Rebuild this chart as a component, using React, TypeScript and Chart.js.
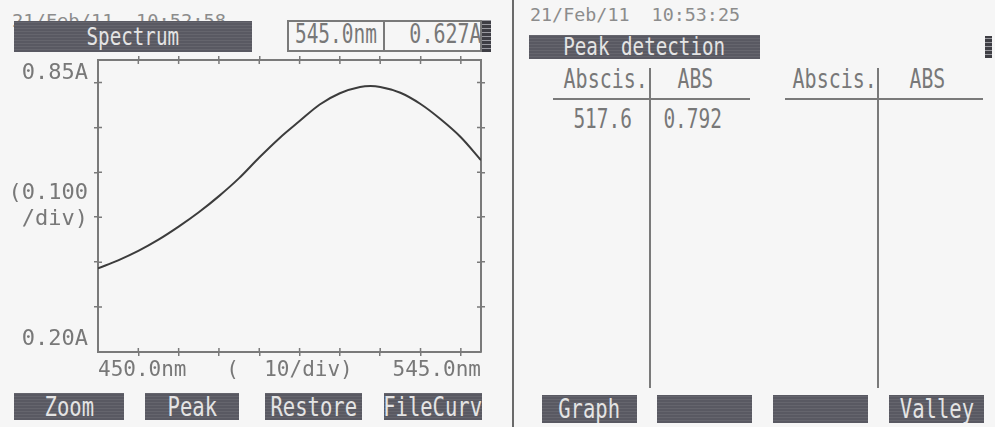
import React, { useEffect, useRef } from "react";
import { Chart, registerables } from "chart.js";

Chart.register(...registerables);

// ---- data ----
const WAVELENGTHS = [450, 455, 460, 465, 470, 475, 480, 485, 490, 495, 500, 505, 510, 515, 517.6, 520, 525, 530, 535, 540, 545];
const ABSORBANCE = [0.386, 0.404, 0.425, 0.450, 0.479, 0.511, 0.547, 0.587, 0.633, 0.676, 0.714, 0.751, 0.776, 0.790, 0.792, 0.790, 0.777, 0.752, 0.718, 0.678, 0.627];

const X_MIN = 450;
const X_MAX = 545;
const X_STEPS = [460, 470, 480, 490, 500, 510, 520, 530, 540];
const X_MID = 497.5; // position of the "( 10/div)" caption
const Y_MIN = 0.2;
const Y_MAX = 0.85;
const Y_STEPS = [0.3, 0.4, 0.5, 0.6, 0.7, 0.8];
const Y_MID = 0.525; // position of the "(0.100 /div)" caption

const X_LABEL_MIN = "450.0nm";
const X_LABEL_MAX = "545.0nm";
const X_LABEL_DIV = "(  10/div)";
const Y_LABEL_MAX = "0.85A";
const Y_LABEL_MIN = "0.20A";
const Y_LABEL_DIV = ["(0.100", "/div)"];

const LEFT_DATE = "21/Feb/11  10:52:58";
const RIGHT_DATE = "21/Feb/11  10:53:25";
const READ_WL = "545.0nm";
const READ_ABS = "0.627A";
const PEAK_HEADERS = ["Abscis.", "ABS"];
const PEAK_ROW = ["517.6", "0.792"];
const LEFT_BUTTONS = ["Zoom", "Peak", "Restore", "FileCurv"];
const RIGHT_BUTTONS = ["Graph", "", "", "Valley"];

// ---- styles ----
const MONO = "'DejaVu Sans Mono', monospace";
const BG = "#f6f6f6";
const FRAME = "#7a7a7a";
const CURVE = "#3c3c3c";
const TEXT = "#787878";
const BAR_TEXT = "#e4e4e4";
const BAR_BG =
  "repeating-linear-gradient(0deg, #595962 0px, #595962 2px, #65656d 2px, #65656d 3px)";

const near = (a: number, b: number) => Math.abs(a - b) < 1e-6;

type TxtProps = {
  x: number;
  y: number;
  w: number;
  h: number;
  text: string;
  size: number;
  sx: number;
  align?: "start" | "center" | "end";
  color?: string;
};

function Txt({ x, y, w, h, text, size, sx, align = "center", color = TEXT }: TxtProps) {
  const justify = align === "start" ? "flex-start" : align === "end" ? "flex-end" : "center";
  const origin = align === "start" ? "left center" : align === "end" ? "right center" : "center center";
  return (
    <div
      style={{
        position: "absolute",
        left: x,
        top: y,
        width: w,
        height: h,
        display: "flex",
        alignItems: "center",
        justifyContent: justify,
      }}
    >
      <span
        style={{
          fontFamily: MONO,
          fontSize: size,
          lineHeight: 1,
          color,
          whiteSpace: "pre",
          display: "inline-block",
          transform: `scaleX(${sx})`,
          transformOrigin: origin,
        }}
      >
        {text}
      </span>
    </div>
  );
}

function Bar({ x, y, w, h, label, size, sx }: { x: number; y: number; w: number; h: number; label: string; size: number; sx: number }) {
  return (
    <div style={{ position: "absolute", left: x, top: y, width: w, height: h, background: BAR_BG, overflow: "hidden" }}>
      <Txt x={0} y={0} w={w} h={h} text={label} size={size} sx={sx} color={BAR_TEXT} />
    </div>
  );
}

function Icon({ x, y, w, h }: { x: number; y: number; w: number; h: number }) {
  return (
    <div
      style={{
        position: "absolute",
        left: x,
        top: y,
        width: w,
        height: h,
        background: "repeating-linear-gradient(0deg, #3e3e44 0px, #3e3e44 3px, #9a9aa0 3px, #9a9aa0 4px)",
      }}
    />
  );
}

function Line({ x, y, w, h, color = FRAME }: { x: number; y: number; w: number; h: number; color?: string }) {
  return <div style={{ position: "absolute", left: x, top: y, width: w, height: h, background: color }} />;
}

const innerTicks = {
  id: "innerTicks",
  afterDraw(chart: any) {
    const { ctx, chartArea: a, scales } = chart;
    const len = 4;
    ctx.save();
    ctx.strokeStyle = FRAME;
    ctx.lineWidth = 1.5;
    ctx.beginPath();
    for (const v of X_STEPS) {
      const px = scales.x.getPixelForValue(v);
      ctx.moveTo(px, a.bottom);
      ctx.lineTo(px, a.bottom - len);
      const pt = scales.xTop.getPixelForValue(v);
      ctx.moveTo(pt, a.top);
      ctx.lineTo(pt, a.top + len);
    }
    for (const v of Y_STEPS) {
      const py = scales.y.getPixelForValue(v);
      ctx.moveTo(a.left, py);
      ctx.lineTo(a.left + len, py);
      const pr = scales.yRight.getPixelForValue(v);
      ctx.moveTo(a.right, pr);
      ctx.lineTo(a.right - len, pr);
    }
    ctx.stroke();
    ctx.restore();
  },
};

export default function App() {
  const ref = useRef<HTMLCanvasElement>(null);

  useEffect(() => {
    document.body.style.margin = "0";
    if (!ref.current) return;
    const xTickValues = [X_MIN, ...X_STEPS, X_MID, X_MAX].sort((a, b) => a - b);
    const yTickValues = [Y_MIN, ...Y_STEPS, Y_MID, Y_MAX].sort((a, b) => a - b);
    const hiddenX = (v: number) => near(v, X_MID) || near(v, X_MIN) || near(v, X_MAX);
    const hiddenY = (v: number) => near(v, Y_MID) || near(v, Y_MIN) || near(v, Y_MAX);
    const tickFontX = { family: MONO, size: 21 };
    const tickFontY = { family: MONO, size: 22, lineHeight: 1.2 };

    const chart = new Chart(ref.current, {
      type: "line",
      data: {
        datasets: [
          {
            data: WAVELENGTHS.map((x, i) => ({ x, y: ABSORBANCE[i] })),
            borderColor: CURVE,
            borderWidth: 2,
            pointRadius: 0,
            fill: false,
            cubicInterpolationMode: "monotone",
          },
        ],
      },
      options: {
        animation: false,
        responsive: false,
        devicePixelRatio: 1,
        events: [],
        layout: { padding: 0 },
        plugins: { legend: { display: false }, tooltip: { enabled: false } },
        scales: {
          x: {
            type: "linear",
            position: "bottom",
            min: X_MIN,
            max: X_MAX,
            afterBuildTicks: (s: any) => {
              s.ticks = xTickValues.map((value) => ({ value }));
            },
            afterFit: (s: any) => {
              s.height = 75;
            },
            ticks: {
              autoSkip: false,
              maxRotation: 0,
              minRotation: 0,
              align: "inner",
              padding: 2,
              color: TEXT,
              font: tickFontX,
              callback: (v: any) => {
                const n = Number(v);
                if (near(n, X_MIN)) return X_LABEL_MIN;
                if (near(n, X_MAX)) return X_LABEL_MAX;
                if (near(n, X_MID)) return X_LABEL_DIV;
                return "";
              },
            },
            grid: {
              drawOnChartArea: false,
              drawTicks: true,
              tickLength: 4,
              lineWidth: 1.5,
              color: (c: any) => (c.tick && hiddenX(c.tick.value) ? "rgba(0,0,0,0)" : FRAME),
            },
            border: { display: true, color: FRAME, width: 2 },
          },
          xTop: {
            type: "linear",
            position: "top",
            min: X_MIN,
            max: X_MAX,
            afterBuildTicks: (s: any) => {
              s.ticks = X_STEPS.map((value) => ({ value }));
            },
            afterFit: (s: any) => {
              s.height = 60;
            },
            ticks: { autoSkip: false, maxRotation: 0, callback: () => "" },
            grid: { drawOnChartArea: false, drawTicks: true, tickLength: 4, lineWidth: 1.5, color: FRAME },
            border: { display: true, color: FRAME, width: 2 },
          },
          y: {
            type: "linear",
            position: "left",
            min: Y_MIN,
            max: Y_MAX,
            afterBuildTicks: (s: any) => {
              s.ticks = yTickValues.map((value) => ({ value }));
            },
            afterFit: (s: any) => {
              s.width = 98;
            },
            ticks: {
              autoSkip: false,
              padding: 6,
              color: TEXT,
              font: tickFontY,
              callback: (v: any) => {
                const n = Number(v);
                if (near(n, Y_MAX)) return ["", Y_LABEL_MAX];
                if (near(n, Y_MIN)) return [Y_LABEL_MIN, ""];
                if (near(n, Y_MID)) return Y_LABEL_DIV;
                return "";
              },
            },
            grid: {
              drawOnChartArea: false,
              drawTicks: true,
              tickLength: 4,
              lineWidth: 1.5,
              color: (c: any) => (c.tick && hiddenY(c.tick.value) ? "rgba(0,0,0,0)" : FRAME),
            },
            border: { display: true, color: FRAME, width: 2 },
          },
          yRight: {
            type: "linear",
            position: "right",
            min: Y_MIN,
            max: Y_MAX,
            afterBuildTicks: (s: any) => {
              s.ticks = Y_STEPS.map((value) => ({ value }));
            },
            afterFit: (s: any) => {
              s.width = 514;
            },
            ticks: { autoSkip: false, callback: () => "" },
            grid: { drawOnChartArea: false, drawTicks: true, tickLength: 4, lineWidth: 1.5, color: FRAME },
            border: { display: true, color: FRAME, width: 2 },
          },
        },
      } as any,
      plugins: [innerTicks],
    });
    return () => chart.destroy();
  }, []);

  const leftBtnX = [14, 145, 265, 384];
  const leftBtnW = [110, 94, 97, 98];
  const rightBtnX = [542, 657, 773, 889];

  return (
    <div
      style={{
        position: "fixed",
        left: 0,
        top: 0,
        width: 995,
        height: 427,
        background: BG,
        overflow: "hidden",
      }}
    >
      {/* left panel */}
      <Txt x={12} y={11} w={260} h={20} text={LEFT_DATE} size={18} sx={1.04} align="start" color="#8c8c8c" />
      <Bar x={14} y={21} w={238} h={31} label="Spectrum" size={24} sx={0.8} />
      <div style={{ position: "absolute", left: 287, top: 20, width: 195, height: 32, boxSizing: "border-box", border: `2px solid ${FRAME}` }} />
      <Line x={383} y={20} w={2} h={32} />
      <Txt x={290} y={21} w={92} h={24} text={READ_WL} size={27} sx={0.72} align="center" />
      <Txt x={386} y={21} w={96} h={24} text={READ_ABS} size={27} sx={0.74} align="end" />
      <Icon x={482} y={20} w={9} h={32} />
      {LEFT_BUTTONS.map((b, i) => (
        <Bar key={"l" + i} x={leftBtnX[i]} y={393} w={leftBtnW[i]} h={27} label={b} size={26} sx={0.79} />
      ))}

      {/* divider */}
      <Line x={512} y={0} w={2} h={427} color="#6a6a6a" />

      {/* right panel */}
      <Txt x={530} y={6} w={240} h={18} text={RIGHT_DATE} size={18} sx={1.02} align="start" color="#8c8c8c" />
      <Bar x={529} y={35} w={231} h={24} label="Peak detection" size={24} sx={0.8} />
      <Icon x={985} y={36} w={7} h={22} />

      <Line x={553} y={98} w={197} h={2} />
      <Line x={649} y={68} w={2} h={320} />
      <Txt x={540} y={66} w={108} h={24} text={PEAK_HEADERS[0]} size={27} sx={0.74} align="end" />
      <Txt x={655} y={66} w={81} h={24} text={PEAK_HEADERS[1]} size={27} sx={0.73} />
      <Txt x={555} y={106} w={95} h={24} text={PEAK_ROW[0]} size={27} sx={0.72} />
      <Txt x={655} y={106} w={75} h={24} text={PEAK_ROW[1]} size={27} sx={0.72} />

      <Line x={785} y={98} w={198} h={2} />
      <Line x={877} y={68} w={2} h={320} />
      <Txt x={770} y={66} w={107} h={24} text={PEAK_HEADERS[0]} size={27} sx={0.74} align="end" />
      <Txt x={890} y={66} w={75} h={24} text={PEAK_HEADERS[1]} size={27} sx={0.73} />

      {RIGHT_BUTTONS.map((b, i) => (
        <Bar key={"r" + i} x={rightBtnX[i]} y={395} w={95} h={28} label={b} size={26} sx={0.79} />
      ))}

      <canvas
        ref={ref}
        width={995}
        height={427}
        style={{ position: "absolute", left: 0, top: 0, width: 995, height: 427, pointerEvents: "none" }}
      />
    </div>
  );
}
